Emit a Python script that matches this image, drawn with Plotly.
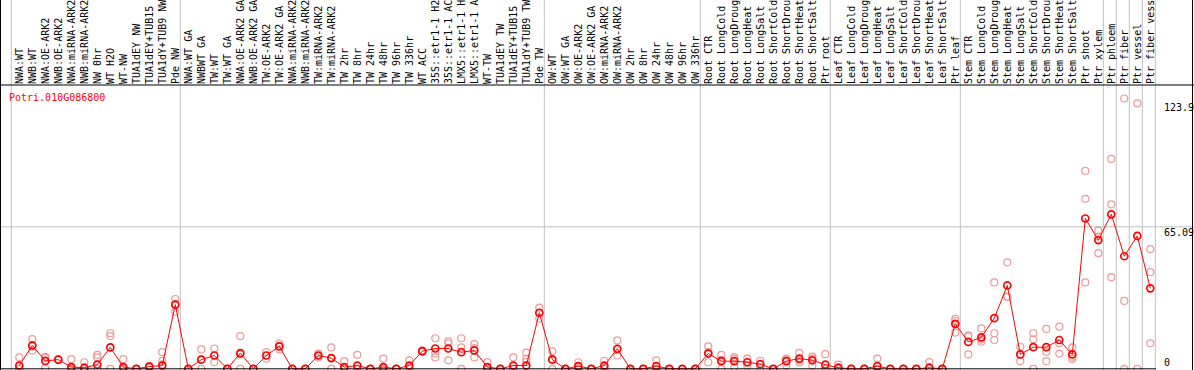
import plotly.graph_objects as go

# ---------------- data ----------------
categories = [
    "NWA:WT", "NWB:WT", "NWA:OE-ARK2", "NWB:OE-ARK2", "NWA:miRNA-ARK2", "NWB:miRNA-ARK2",
    "NW 0hr", "WT H2O", "WT-NW", "TUA1dEY NW", "TUA1dEY+TUB15", "TUA1dY+TUB9 NW", "Pde NW",
    "NWA:WT GA", "NWBWT GA", "TW:WT", "TW:WT GA", "NWA:OE-ARK2 GA", "NWB:OE-ARK2 GA",
    "TW:OE-ARK2", "TW:OE-ARK2 GA", "NWA:miRNA-ARK2", "NWB:miRNA-ARK2", "TW:miRNA-ARK2",
    "TW:miRNA-ARK2", "TW 2hr", "TW 8hr", "TW 24hr", "TW 48hr", "TW 96hr", "TW 336hr",
    "WT ACC", "35S::etr1-1 H2", "35S::etr1-1 AC", "LMX5::etr1-1 H", "LMX5::etr1-1 A",
    "WT-TW", "TUA1dEY TW", "TUA1dEY+TUB15", "TUA1dY+TUB9 TW", "Pde TW",
    "OW:WT", "OW:WT GA", "OW:OE-ARK2", "OW:OE-ARK2 GA", "OW:miRNA-ARK2", "OW:miRNA-ARK2",
    "OW 2hr", "OW 8hr", "OW 24hr", "OW 48hr", "OW 96hr", "OW 336hr",
    "Root CTR", "Root LongCold", "Root LongDroug", "Root LongHeat", "Root LongSalt",
    "Root ShortCold", "Root ShortDrou", "Root ShortHeat", "Root ShortSalt", "Ptr root",
    "Leaf CTR", "Leaf LongCold", "Leaf LongDroug", "Leaf LongHeat", "Leaf LongSalt",
    "Leaf ShortCold", "Leaf ShortDrou", "Leaf ShortHeat", "Leaf ShortSalt", "Ptr leaf",
    "Stem CTR", "Stem LongCold", "Stem LongDroug", "Stem LongHeat", "Stem LongSalt",
    "Stem ShortCold", "Stem ShortDrou", "Stem ShortHeat", "Stem ShortSalt", "Ptr shoot",
    "Ptr xylem", "Ptr phloem", "Ptr fiber", "Ptr vessel", "Ptr fiber vess",
]

means = [
    1.5, 10.7, 3.6, 4.2, 0.8, 0.5, 1.9, 9.8, 0.8, 0, 1.0, 1.5, 29.4,
    0, 4.2, 6.1, 0, 7.2, 0, 6.1, 10.3, 0, 0, 6.1, 4.9, 0.8, 1.5, 0, 0.8, 0, 1.5,
    8.1, 9.3, 9.3, 7.6, 8.4, 0.8, 0, 1.5, 1.5, 25.7,
    4.2, 0, 1.2, 0, 1.5, 9.2, 0, 0, 1.2, 0, 0, 0,
    7.0, 3.5, 3.5, 3.0, 2.1, 0, 3.5, 4.7, 3.9, 1.9,
    0.5, 0, 0, 1.2, 0, 0, 0, 0.5, 0, 20.6,
    12.3, 14.4, 23.2, 38.2, 6.6, 9.9, 9.9, 13.2, 6.6, 68.9,
    59.0, 70.8, 51.6, 60.9, 36.9,
]

replicates = [
    [5.2, 0, 0], [13.6, 10.2, 8.4], [5.5, 5.0, 0.3], [4.2, 4.2], [4.4, 0, 0],
    [3.0, 0, 0], [6.4, 5.2, 0], [16.3, 15.0, 0], [4.4, 0, 0], [0, 0],
    [1.4, 0.6], [7.6, 3.6, 2.0], [32.0, 26.2, 29.7],
    [0, 0], [8.9, 0], [9.3, 3.0], [0, 0], [15.0, 0, 6.6], [0, 0], [7.6, 4.6],
    [11.6, 8.9, 10.4], [0, 0], [0, 0], [7.0, 5.2], [9.8, 0, 4.9], [3.5, 0, 0],
    [6.4, 0, 0], [0, 0], [4.7, 0, 0], [0, 0], [3.9, 0.5, 0],
    [8.5, 7.7, 8.1], [14.0, 7.0, 5.2], [12.6, 11.6, 3.9], [14.0, 9.8, 0],
    [11.3, 9.5, 5.2], [3.1, 0, 0], [0, 0], [5.2, 0, 0], [7.4, 4.7, 3.1],
    [28.0, 23.1, 25.6],
    [8.0, 0, 4.6], [0, 0], [3.0, 0, 0.6], [0, 0], [3.7, 0, 0.8], [13.0, 6.1, 8.5],
    [0, 0], [0, 0], [3.9, 0, 0], [0, 0], [0, 0], [0, 0],
    [10.3, 3.0, 7.7], [6.4, 0, 4.1], [5.2, 0.8, 4.5], [4.8, 1.4, 2.8],
    [3.7, 0.5, 2.1], [0, 0], [4.7, 1.5, 4.3], [7.3, 3.9, 2.9], [5.6, 1.4, 4.7],
    [6.7, 0, 0],
    [1.9, 0, 0], [0, 0], [0, 0], [4.7, 0, 0], [0, 0], [0, 0], [0, 0],
    [3.1, 0, 0], [0, 0], [22.9, 21.9, 16.6],
    [15.3, 14.8, 6.6], [18.5, 13.4, 12.4], [39.6, 16.3, 13.2], [48.8, 33.0, 33.0],
    [10.1, 6.6, 3.5], [16.3, 13.5, 0], [18.3, 7.8, 3.5], [19.3, 11.7, 7.0],
    [9.8, 5.5, 4.5], [90.7, 77.9, 39.6],
    [63.3, 53.0, 60.6], [96.2, 75.4, 42.0], [123.9, 31.1, 0], [121.7, 0],
    [54.9, 44.3, 11.7],
]

group_ends = [-1, 12, 40, 52, 62, 72, 83, 84, 85, 86, 87]
y_ticks = [123.9, 65.09, 0]
y_tick_text = ["123.9", "65.09", "0"]
gene_name = "Potri.010G086800"

# ---------------- layout geometry ----------------
W, H = 1194, 370
ML, MR, MT, MB = 0, 38, 85, 0
PW = W - ML - MR
PH = H - MT - MB
FONT = "DejaVu Sans Mono"

x_step = 13.0
x_first = 19.3
x_lo = -x_first / x_step
x_hi = x_lo + PW / x_step
y_lo, y_hi = -0.55, 130.09

idx = list(range(len(categories)))
rep_x = [i for i, reps in zip(idx, replicates) for _ in reps]
rep_y = [v for reps in replicates for v in reps]

fig = go.Figure()
fig.add_trace(go.Scatter(
    x=rep_x, y=rep_y, mode="markers",
    marker=dict(symbol="circle-open", size=7, color="#ec9a9a", line=dict(width=1.2, color="#ec9a9a")),
    hoverinfo="skip", showlegend=False,
))
fig.add_trace(go.Scatter(
    x=idx, y=means, mode="lines+markers",
    line=dict(color="#ff0000", width=1),
    marker=dict(symbol="circle-open", size=7, color="#ff0000", line=dict(width=1.7, color="#ff0000")),
    showlegend=False,
))

shapes = []
top_paper = 1 + MT / PH
for g in group_ends:
    shapes.append(dict(type="line", xref="x", yref="paper", x0=g + 0.385, x1=g + 0.385,
                       y0=0, y1=top_paper, line=dict(color="#c0c0c0", width=1), layer="below"))
# horizontal grid at middle tick
shapes.append(dict(type="line", xref="paper", yref="y", x0=0, x1=W / PW, y0=y_ticks[1], y1=y_ticks[1],
                   line=dict(color="#c0c0c0", width=1), layer="below"))
# black frame lines
shapes.append(dict(type="line", xref="paper", yref="paper", x0=0, x1=W / PW, y0=1, y1=1,
                   line=dict(color="black", width=1)))
shapes.append(dict(type="line", xref="paper", yref="paper", x0=0.5 / PW, x1=0.5 / PW, y0=0, y1=top_paper,
                   line=dict(color="black", width=1)))
shapes.append(dict(type="line", xref="paper", yref="paper", x0=(W - 1.5) / PW, x1=(W - 1.5) / PW,
                   y0=0, y1=top_paper, line=dict(color="black", width=1)))
shapes.append(dict(type="line", xref="paper", yref="y", x0=0, x1=1, y0=0, y1=0,
                   line=dict(color="black", width=1)))

annotations = []
y_shifts = [-8.8, -5.5, 6.3]
for v, t, s in zip(y_ticks, y_tick_text, y_shifts):
    annotations.append(dict(xref="paper", yref="y", x=1162 / PW, y=v, text=t, showarrow=False,
                            xanchor="left", yanchor="middle", yshift=s,
                            font=dict(family=FONT, size=10, color="black")))
annotations.append(dict(xref="paper", yref="paper", x=7 / PW, y=(H - MB - 97) / PH, text=gene_name,
                        showarrow=False, xanchor="left", yanchor="middle",
                        font=dict(family=FONT, size=10, color="#ff0000")))

fig.update_layout(
    width=W, height=H, autosize=False,
    margin=dict(l=ML, r=MR, t=MT, b=MB, pad=0),
    paper_bgcolor="white", plot_bgcolor="white",
    shapes=shapes, annotations=annotations,
    xaxis=dict(range=[x_lo, x_hi], side="top", tickmode="array", tickvals=idx, ticktext=categories,
               tickangle=-90, tickfont=dict(family=FONT, size=10, color="black"),
               showgrid=False, zeroline=False, showline=False, ticks=""),
    yaxis=dict(range=[y_lo, y_hi], showgrid=False, zeroline=False, showline=False,
               showticklabels=False, ticks=""),
    font=dict(family=FONT),
)

fig.write_html(
    "out.html",
    config={"displayModeBar": False},
    post_script="document.body.style.margin='0';document.body.style.overflow='hidden';",
)
